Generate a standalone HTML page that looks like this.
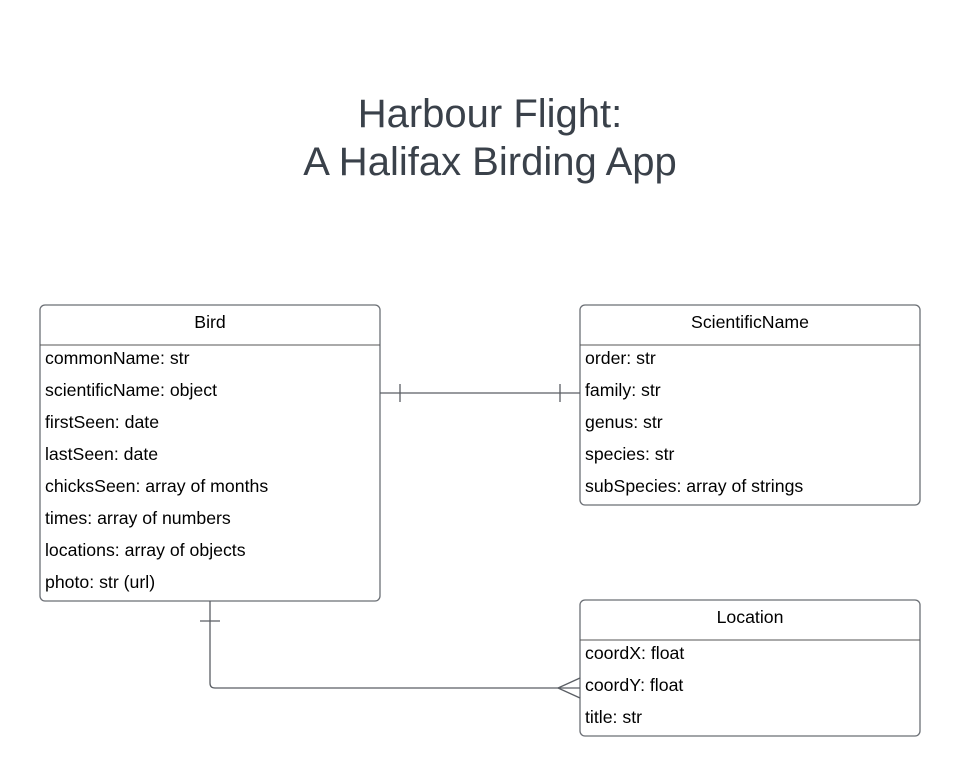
<!DOCTYPE html>
<html><head><style>body{margin:0;background:#fff}svg{display:block}</style></head><body>
<svg width="960" height="776" xmlns="http://www.w3.org/2000/svg" font-family="Liberation Sans, sans-serif">
<rect width="960" height="776" fill="#fff"/>
<text x="490" y="127" text-anchor="middle" font-size="40" fill="#3a414a">Harbour Flight:</text>
<text x="490" y="175" text-anchor="middle" font-size="40" fill="#3a414a">A Halifax Birding App</text>
<g fill="#fff" stroke="#6b6f75" stroke-width="1.3">
<rect x="40" y="305" width="340" height="296" rx="5"/>
<rect x="580" y="305" width="340" height="200" rx="5"/>
<rect x="580" y="600" width="340" height="136" rx="5"/>
</g>
<g stroke="#555" stroke-width="1">
<line x1="40" y1="345" x2="380" y2="345"/>
<line x1="580" y1="345" x2="920" y2="345"/>
<line x1="580" y1="640" x2="920" y2="640"/>
</g>
<g font-size="17.7" fill="#000">
<text x="210" y="328" text-anchor="middle">Bird</text>
<text x="45" y="364">commonName: str</text>
<text x="45" y="396">scientificName: object</text>
<text x="45" y="428">firstSeen: date</text>
<text x="45" y="460">lastSeen: date</text>
<text x="45" y="492">chicksSeen: array of months</text>
<text x="45" y="524">times: array of numbers</text>
<text x="45" y="556">locations: array of objects</text>
<text x="45" y="588">photo: str (url)</text>
<text x="750" y="328" text-anchor="middle">ScientificName</text>
<text x="585" y="364">order: str</text>
<text x="585" y="396">family: str</text>
<text x="585" y="428">genus: str</text>
<text x="585" y="460">species: str</text>
<text x="585" y="492">subSpecies: array of strings</text>
<text x="750" y="623" text-anchor="middle">Location</text>
<text x="585" y="659">coordX: float</text>
<text x="585" y="691">coordY: float</text>
<text x="585" y="723">title: str</text>
</g>
<g stroke="#5a5e64" stroke-width="1.3" fill="none">
<line x1="380" y1="393" x2="580" y2="393"/>
<line x1="400" y1="384" x2="400" y2="402"/>
<line x1="560" y1="384" x2="560" y2="402"/>
<path d="M210 601 V683 Q210 688 215 688 H580"/>
<line x1="200" y1="621" x2="220" y2="621"/>
<path d="M580 678 L558 688 L580 698"/>
</g>
</svg>
</body></html>
